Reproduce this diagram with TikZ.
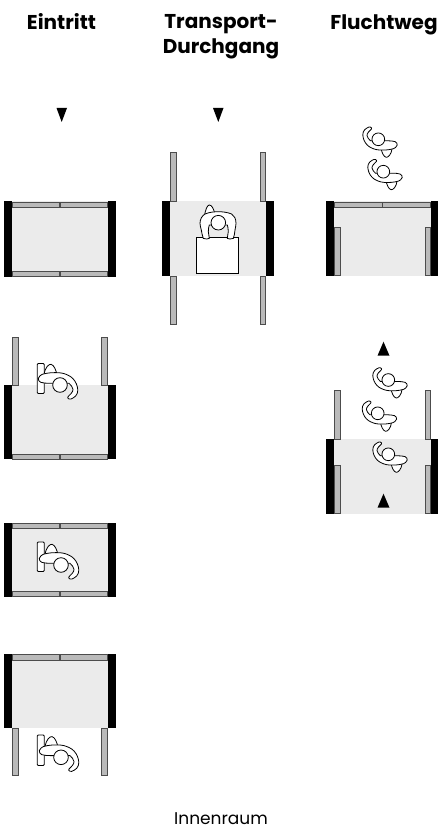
\documentclass[tikz,border=0pt]{standalone}
\usepackage{fontspec}
\setmainfont{Poppins}
\usetikzlibrary{positioning}
\definecolor{DoorGrey}{HTML}{BABABA}
\definecolor{FloorGrey}{HTML}{EBEBEB}

\tikzset{
  floor/.style={fill=FloorGrey, draw=none},
  jamb/.style={fill=black, draw=none},
  door/.style={fill=DoorGrey, draw=black!70, line width=0.9pt},
  reader/.style={fill=white, draw=black, line width=0.8pt, rounded corners=1pt},
  tri/.style={fill=black, draw=none},
  heading/.style={font=\bfseries\fontsize{20}{25}\selectfont, align=center, inner sep=0pt},
  person/.style={fill=white, draw=black, line width=0.8pt},
  % one arm bent, head at the origin
  walker/.pic={
    \draw[person] (-16,-10) .. controls (-15,-18) and (-11,-21) .. (-9,-20.7)
      .. controls (-6,-20) and (-4,-15) .. (-3,-10) -- cycle;
    \draw[person] (-21.7,-6.7) .. controls (-21,-9) and (-19,-10) .. (-17.7,-10.7)
      .. controls (-12,-12.5) and (-6,-12.5) .. (-1,-12.3)
      .. controls (4,-12) and (8,-10) .. (10.7,-8.3)
      .. controls (14,-6) and (16.5,-2) .. (17.3,1.7)
      .. controls (18,4) and (18,6) .. (17.3,8.3)
      .. controls (16.5,10.5) and (15,12) .. (13,13)
      .. controls (11.5,14) and (10,14.5) .. (9,14)
      .. controls (7.5,13.5) and (7.5,12.5) .. (8,11.7)
      .. controls (9,10.5) and (10.5,9.5) .. (11.3,8.3)
      .. controls (12.5,7) and (13,5.5) .. (13,4.3)
      .. controls (12.5,2) and (11,0) .. (9,-1.7)
      -- (-11,-1.7) .. controls (-14,-1.7) and (-17,-2) .. (-19.3,-2.7)
      .. controls (-21,-3.5) and (-22,-5) .. (-21.7,-6.7) -- cycle;
    \draw[person] (0,0) circle (7.3);
  },
  % both arms forward, head at the origin
  carrier/.pic={
    \draw[person] (-14,-6) .. controls (-13,-13) and (-11,-17.7) .. (-9,-17.7)
      .. controls (-6.5,-17.7) and (-4.5,-14) .. (-3.3,-8) -- cycle;
    \draw[person] (-18.3,0.7) .. controls (-18.3,-4) and (-16,-7) .. (-13.3,-8.7)
      .. controls (-9,-10.5) and (-4,-11) .. (0,-11)
      .. controls (4,-11) and (9,-10.5) .. (13.3,-8.7)
      .. controls (16,-7) and (17.7,-4) .. (17.7,0.7)
      .. controls (17.7,3) and (17,5) .. (16.7,7.3)
      .. controls (16.5,10) and (16,13) .. (15,15.7)
      .. controls (13,16.5) and (10,16.5) .. (9,15.7)
      .. controls (9,13) and (10,11) .. (10,9)
      .. controls (10,6) and (9.5,4) .. (9,2.3)
      -- (-9,2.3) .. controls (-9.5,4) and (-10,6) .. (-10,9)
      .. controls (-10,11) and (-9,13) .. (-9,15.7)
      .. controls (-10,16.5) and (-13,16.5) .. (-15,15.7)
      .. controls (-16,13) and (-16.5,10) .. (-17,7.3)
      .. controls (-17.5,5) and (-18.3,3) .. (-18.3,0.7) -- cycle;
    \draw[person] (0,0) circle (7.3);
  }
}

\begin{document}
\begin{tikzpicture}[x=1pt,y=-1pt]
\useasboundingbox (0,0) rectangle (441,829);

\node[heading, anchor=base] (eintritt) at (61.5,30) {Eintritt};
\node[heading] (transport) at (221,37) {Transport-\\Durchgang};
\node[heading, anchor=base] (fluchtweg) at (384,30) {Fluchtweg};
\node[font=\fontsize{17}{17}\selectfont, inner sep=0pt, anchor=base] (innenraum) at (221,824) {Innenraum};

% Eintritt, closed
\fill[floor] (12,201) rectangle (108,277);
\fill[jamb] (4,201) rectangle (12,277);
\fill[jamb] (108,201) rectangle (116,277);
\draw[door] (12.7,202) rectangle (59.3,207);
\draw[door] (60.7,202) rectangle (107.3,207);
\draw[door] (12.7,271) rectangle (59.3,276);
\draw[door] (60.7,271) rectangle (107.3,276);

% Eintritt, opening
\fill[floor] (12,385) rectangle (108,459);
\fill[jamb] (4,385) rectangle (12,459);
\fill[jamb] (108,385) rectangle (116,459);
\draw[door] (12.7,337.5) rectangle (18.3,385);
\draw[door] (101.7,337.5) rectangle (107.3,385);
\draw[door] (12.7,454) rectangle (59.3,459);
\draw[door] (60.7,454) rectangle (107.3,459);
\draw[reader] (37.3,363.5) rectangle (44.3,393.5);
\pic at (60,385) {walker};

% Eintritt, inside
\fill[floor] (12,523) rectangle (108,597);
\fill[jamb] (4,523) rectangle (12,597);
\fill[jamb] (108,523) rectangle (116,597);
\draw[door] (12.7,523.5) rectangle (59.3,528);
\draw[door] (60.7,523.5) rectangle (107.3,528);
\draw[door] (12.7,591.5) rectangle (59.3,596.5);
\draw[door] (60.7,591.5) rectangle (107.3,596.5);
\draw[reader] (37.3,542) rectangle (44.3,571.5);
\pic at (61,565) {walker};

% Eintritt, leaving
\fill[floor] (12,653.5) rectangle (108,727.5);
\fill[jamb] (4,653.5) rectangle (12,727.5);
\fill[jamb] (108,653.5) rectangle (116,727.5);
\draw[door] (12.7,654) rectangle (59.3,660);
\draw[door] (60.7,654) rectangle (107.3,660);
\draw[door] (12.7,728) rectangle (18.3,775);
\draw[door] (101.7,728) rectangle (107.3,775);
\draw[reader] (37.3,735) rectangle (44.3,765.5);
\pic at (61,757.3) {walker};

% Transport
\fill[floor] (170,201) rectangle (266,275.7);
\fill[jamb] (162.3,201) rectangle (170,275.7);
\fill[jamb] (266,201) rectangle (274,275.7);
\draw[door] (170.7,152.5) rectangle (176.3,201);
\draw[door] (260,152.5) rectangle (265.6,201);
\draw[door] (170.7,276) rectangle (176.3,324);
\draw[door] (260,276) rectangle (265.6,324);
\draw[fill=white, draw=black, line width=0.8pt] (196.7,237.3) rectangle (238,273.3);
\pic at (218.3,222.7) {carrier};

% Fluchtweg, closed
\fill[floor] (334,201) rectangle (431,275.7);
\fill[jamb] (326,201) rectangle (334,275.7);
\fill[jamb] (431,201) rectangle (438,275.7);
\draw[door] (334.7,202) rectangle (382,207);
\draw[door] (382,202) rectangle (430.3,207);
\draw[door] (334.7,227) rectangle (340.3,275.7);
\draw[door] (425,227) rectangle (430.3,275.7);
\pic[rotate=180, scale=0.87] at (378.3,139.3) {walker};
\pic[rotate=180, scale=0.87] at (383.3,171.7) {walker};

% Fluchtweg, open
\fill[floor] (334,439) rectangle (431,513.5);
\fill[jamb] (326,439) rectangle (334,513.5);
\fill[jamb] (431,439) rectangle (438,513.5);
\draw[door] (334.7,390.5) rectangle (340.3,439);
\draw[door] (425,390.5) rectangle (430.3,439);
\draw[door] (334.7,465) rectangle (340.3,513.5);
\draw[door] (425,465) rectangle (430.3,513.5);
\pic[rotate=180, scale=0.87] at (388.3,380) {walker};
\pic[rotate=180, scale=0.87] at (377.7,413.3) {walker};
\pic[rotate=180, scale=0.87] at (388.3,454.3) {walker};

% direction marks
\draw[tri] (56.5,108) -- (67,108) -- (61.7,122) -- cycle;
\draw[tri] (213,108) -- (223.5,108) -- (218.3,122) -- cycle;
\draw[tri] (377.5,355.7) -- (389.5,355.7) -- (383.5,341.7) -- cycle;
\draw[tri] (377.5,507.7) -- (389.5,507.7) -- (383.5,493.7) -- cycle;
\end{tikzpicture}
\end{document}
